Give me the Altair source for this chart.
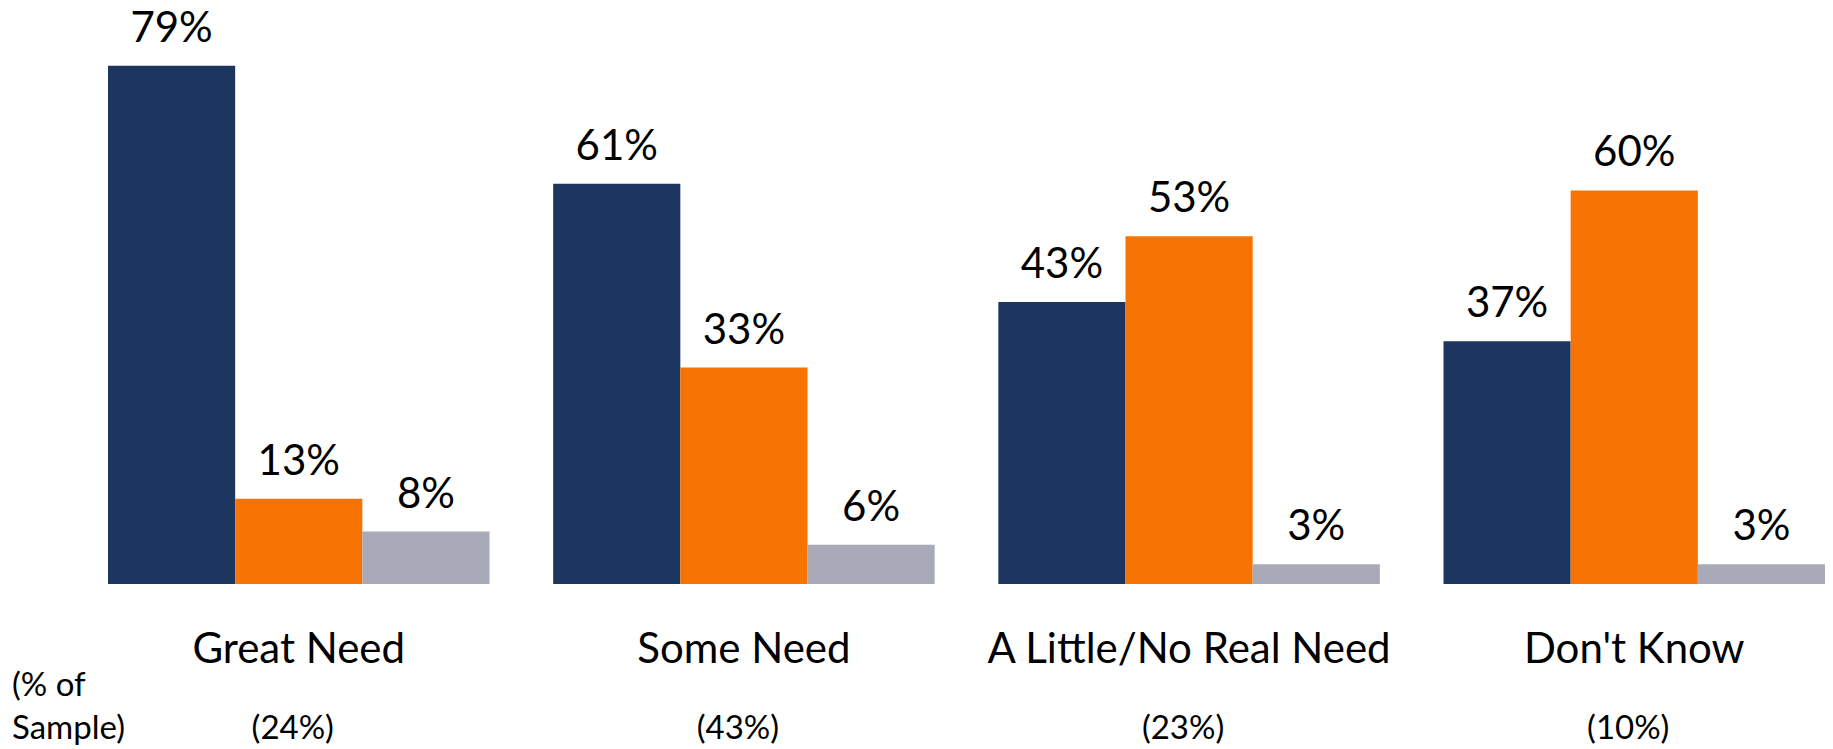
import altair as alt
import pandas as pd

categories = ["Great Need", "Some Need", "A Little/No Real Need", "Don't Know"]
sample_share = ["(24%)", "(43%)", "(23%)", "(10%)"]
series = ["Series 1", "Series 2", "Series 3"]
series1 = [79, 61, 43, 37]
series2 = [13, 33, 53, 60]
series3 = [8, 6, 3, 3]
colors = ["#1d365f", "#f77304", "#a9aab7"]
note_lines = ["(% of", "Sample)"]

rows = []
for s, vals in zip(series, [series1, series2, series3]):
    for c, v in zip(categories, vals):
        rows.append({"category": c, "series": s, "value": v, "label": f"{v}%"})
df = pd.DataFrame(rows)
samp = pd.DataFrame({"category": categories, "share": sample_share})
one = pd.DataFrame({"k": [0]})

FONT = "Lato"

x = alt.X(
    "category:N",
    sort=categories,
    scale=alt.Scale(paddingInner=0.143, paddingOuter=0),
    axis=alt.Axis(
        title=None, labelAngle=0, ticks=False, tickSize=0, domain=False,
        labelFontSize=42, labelFont=FONT, labelColor="black",
        labelPadding=78, labelBaseline="alphabetic", labelLimit=1000, grid=False,
    ),
)
xo = alt.XOffset("series:N", sort=series, scale=alt.Scale(paddingInner=0, paddingOuter=0))
y = alt.Y("value:Q", scale=alt.Scale(domain=[0, 87.8]), axis=None)
color = alt.Color("series:N", scale=alt.Scale(domain=series, range=colors), legend=None)

base = alt.Chart(df)
bars = base.mark_bar(strokeWidth=0).encode(x=x, xOffset=xo, y=y, color=color)
labels = base.mark_text(
    baseline="alphabetic", dy=-24, fontSize=42, font=FONT, color="black"
).encode(x=x, xOffset=xo, y=y, text="label:N")
samples = alt.Chart(samp).mark_text(
    baseline="alphabetic", fontSize=33, font=FONT, color="black", dx=-6
).encode(x=x, y=alt.value(731), text="share:N")
note = alt.Chart(one).mark_text(
    align="left", baseline="alphabetic", fontSize=33, font=FONT, color="black",
    text=note_lines, lineHeight=43,
).encode(x=alt.value(-96), y=alt.value(688))

chart = alt.layer(bars, labels, samples, note).properties(
    width=1717,
    height=576,
    padding={"left": 100, "top": 0, "right": 0, "bottom": 165},
    autosize=alt.AutoSizeParams(type="none"),
    background="white",
).configure_view(stroke=None)

chart.save("out.html", embed_options={"renderer": "svg", "actions": False})
